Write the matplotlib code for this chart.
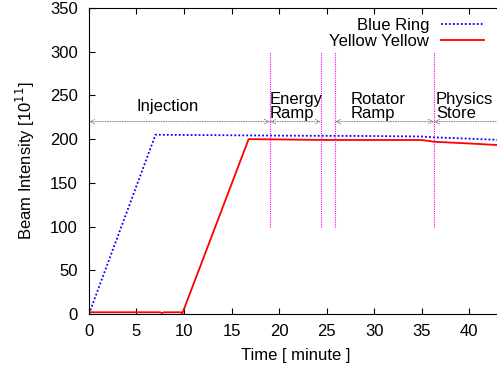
import matplotlib
matplotlib.use("Agg")
from matplotlib import pyplot as plt

# beam intensity vs time
blue_t = [0, 7.0, 20, 30, 35.0, 36.3, 40, 43.4]
blue_v = [0, 205, 204, 203.5, 203, 202, 200.5, 199]
yellow_t = [0, 7.5, 7.7, 7.9, 9.7, 9.8, 16.8, 25, 35.0, 36.3, 40, 43.4]
yellow_v = [2, 2, 1, 2, 2, 0, 200, 199, 199, 197, 195, 193]

# phase boundaries (minutes) and labels
bounds = [19.05, 24.4, 25.9, 36.3]
phases = ["Injection", "Energy\nRamp", "Rotator\nRamp", "Physics\nStore"]
phase_x = [5.0, 19.0, 27.5, 36.5]
phase_y = [232, 224, 224, 224]
arrows = [(0, 19.05), (19.05, 24.4), (25.9, 36.3), (36.3, 45)]

plt.rcParams['font.family'] = ['Liberation Sans', 'DejaVu Sans']
plt.rcParams['font.size'] = 12

fig = plt.figure(figsize=(4.97, 3.71), dpi=100)
ax = fig.add_axes([0.179, 0.1536, 0.83, 0.825])

ax.plot(blue_t, blue_v, color='blue', ls=(0, (1, 1.2)), lw=1.3, label='Blue Ring')
ax.plot(yellow_t, yellow_v, color='red', lw=1.3, label='Yellow Yellow')

for b in bounds:
    ax.plot([b, b], [100, 300], color='magenta', ls=(0, (1, 1)), lw=0.8)

for a, b in arrows:
    ax.annotate('', xy=(a, 220), xytext=(b, 220),
                arrowprops=dict(arrowstyle='<->', color='grey', ls=(0, (1, 1.5)),
                                lw=0.7, shrinkA=0, shrinkB=0, mutation_scale=8))

for x, y, s in zip(phase_x, phase_y, phases):
    ax.text(x, y, s, ha='left', va='baseline', fontsize=12, linespacing=0.9)

ax.set_xlim(0, 43.4)
ax.set_ylim(0, 350)
ax.set_xticks(range(0, 45, 5))
ax.set_yticks(range(0, 351, 50))
ax.tick_params(direction='in', top=True, right=False, length=4)
ax.tick_params(axis='x', pad=7)
ax.tick_params(axis='y', pad=8)
ax.spines['right'].set_visible(False)
ax.set_xlabel('Time [ minute ]', labelpad=7)
ax.set_ylabel('Beam Intensity [10$^{11}$]', labelpad=9)

leg = ax.legend(loc='upper right', frameon=False, markerfirst=False,
                handlelength=2.6, handletextpad=0.7, borderaxespad=0.2,
                labelspacing=0.05, bbox_to_anchor=(0.982, 1.0))
for t in leg.get_texts():
    t.set_ha('right')

fig.savefig('out.png', dpi=100)
